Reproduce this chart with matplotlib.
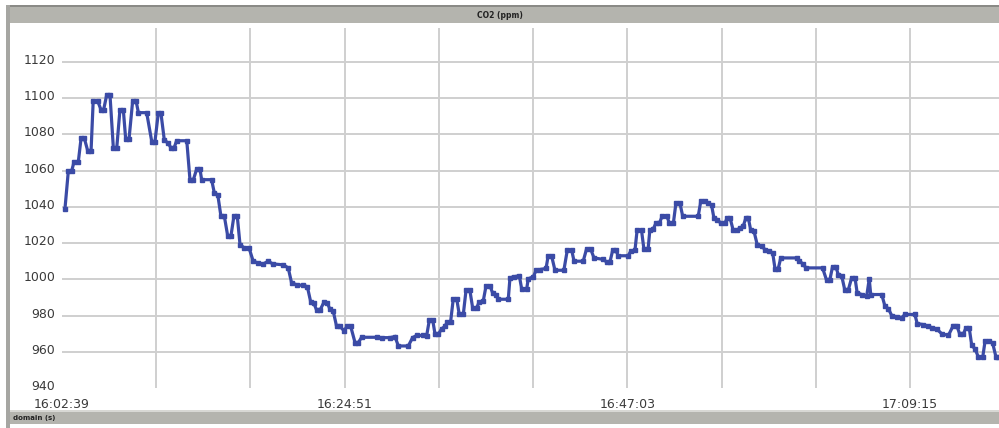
import matplotlib
matplotlib.use("Agg")
import matplotlib.pyplot as plt
import matplotlib.transforms as mtransforms
from matplotlib.patches import Rectangle

# ---- data (seconds since 16:02:39, CO2 ppm) ----
t_sec = [14, 30, 46, 57, 77, 90, 105, 121, 137, 147, 168, 184, 196, 211, 226, 242, 258,
         273, 289, 300, 316, 333, 349, 360, 399, 423, 438, 454, 466, 482, 501, 514, 528,
         540, 588, 603, 619, 635, 650, 658, 705, 718, 734, 749, 765, 781, 796, 810, 826,
         839, 859, 881, 901, 925, 949, 972, 993, 1043, 1066, 1082, 1106, 1134, 1156, 1172,
         1187, 1200, 1216, 1235, 1250, 1263, 1278, 1294, 1310, 1329, 1344, 1360, 1381,
         1396, 1412, 1483, 1506, 1546, 1569, 1585, 1632, 1652, 1671, 1702, 1718, 1731,
         1747, 1758, 1773, 1789, 1805, 1815, 1831, 1844, 1860, 1872, 1891, 1904, 1922,
         1935, 1954, 1966, 1985, 1998, 2017, 2029, 2045, 2056, 2103, 2111, 2130, 2155,
         2166, 2190, 2197, 2221, 2234, 2252, 2281, 2291, 2307, 2323, 2365, 2381, 2402,
         2413, 2456, 2472, 2491, 2507, 2551, 2567, 2582, 2595, 2610, 2621, 2668, 2680,
         2700, 2710, 2731, 2742, 2762, 2770, 2786, 2799, 2815, 2829, 2850, 2862, 2881,
         2893, 2912, 2925, 2998, 3010, 3030, 3045, 3061, 3072, 3088, 3104, 3124, 3135,
         3148, 3163, 3179, 3195, 3210, 3223, 3234, 3245, 3261, 3276, 3297, 3313, 3333,
         3349, 3360, 3375, 3387, 3462, 3474, 3490, 3506, 3584, 3603, 3618, 3631, 3647,
         3658, 3674, 3689, 3705, 3721, 3737, 3747, 3768, 3792, 3804, 3811, 3863, 3878,
         3894, 3910, 3933, 3957, 3972, 4019, 4030, 4058, 4082, 4098, 4121, 4145, 4177,
         4200, 4216, 4231, 4247, 4260, 4275, 4287, 4302, 4318, 4339, 4350, 4370, 4386,
         4401, 4412]
co2_ppm = [1039, 1060, 1060, 1065, 1065, 1078, 1078, 1071, 1071, 1098.5, 1098.5, 1093.5,
           1093.5, 1102, 1102, 1072.5, 1072.5, 1093.5, 1093.5, 1077.6, 1077.6, 1098.5,
           1098.5, 1092, 1092, 1076, 1076, 1092, 1092, 1077, 1075, 1072.5, 1072.5, 1076.5,
           1076.5, 1055, 1055, 1061, 1061, 1055, 1055, 1047.6, 1046.7, 1034.8, 1034.8,
           1023.8, 1023.8, 1034.8, 1034.8, 1019, 1017.4, 1017.5, 1010, 1009, 1008.5, 1010,
           1008.5, 1008, 1006.3, 998, 997, 996.6, 996, 987.5, 986.7, 983, 983, 987.5, 987,
           983.4, 982.5, 974, 974, 971.6, 974.2, 974.2, 965, 965, 968, 968, 967.8, 967.8,
           968.4, 963.2, 963.2, 967.8, 969, 969, 968.6, 977.5, 977.5, 969.6, 969.6, 972.7,
           974, 976.4, 976.4, 989.3, 989.3, 980.6, 980.6, 994, 994, 984.3, 984.3, 987.5,
           988, 996.2, 996.2, 992.6, 991.6, 989, 989, 1000.8, 1001.4, 1002, 994.8, 994.8,
           1000.3, 1001.4, 1004.9, 1005.4, 1006, 1013, 1013, 1005, 1005, 1016, 1016, 1010,
           1010, 1016.8, 1016.8, 1011.8, 1011, 1009.5, 1009.5, 1016, 1016, 1013, 1013,
           1015.5, 1016, 1027, 1027, 1016.8, 1016.8, 1027, 1027.8, 1031, 1031, 1035, 1035,
           1031, 1031, 1042, 1042, 1034.8, 1034.8, 1043, 1043, 1042, 1041, 1033.9, 1033,
           1031, 1031, 1034, 1034, 1027, 1027, 1028.4, 1029.3, 1034, 1034, 1027.4, 1026.5,
           1019.2, 1018.3, 1016.4, 1015.5, 1014.6, 1005.8, 1005.8, 1011.8, 1011.8, 1010,
           1008.7, 1006.3, 1006.3, 999.5, 999.5, 1006.9, 1006.9, 1002.6, 1002, 994, 994,
           1000.8, 1000.8, 992.6, 991.6, 990.7, 1000.2, 991.6, 991.6, 985.2, 983.8, 980,
           979.3, 978.8, 980.6, 980.6, 975.6, 975, 974.2, 973.3, 972.7, 970, 969, 974.5,
           974.5, 969.6, 969.6, 973.3, 973.3, 963.5, 961.7, 957.2, 957.2, 966, 966, 964.6,
           957.2, 957.2]

y_ticks = [940, 960, 980, 1000, 1020, 1040, 1060, 1080, 1100, 1120]
x_grid_step = 444
x_label_pos = [0, 1332, 2664, 3996]
x_labels = ["16:02:39", "16:24:51", "16:47:03", "17:09:15"]
title_text = "CO2 (ppm)"
domain_text = "domain (s)"

W, H = 999, 428
fig = plt.figure(figsize=(W / 100, H / 100), dpi=100)
fig.patch.set_facecolor("white")

def px_rect(x0, y0, x1, y1, color, z=0):
    fig.patches.append(Rectangle((x0 / W, 1 - y1 / H), (x1 - x0) / W, (y1 - y0) / H,
                                 transform=fig.transFigure, facecolor=color,
                                 edgecolor="none", zorder=z))

# frame decorations
px_rect(6, 6, W, 23, "#b4b4ae")          # top bar
px_rect(6, 5, W, 7, "#8a8a86")           # top bar upper edge
px_rect(6, 411, W, 424, "#b4b4ae")       # bottom bar
px_rect(6, 410, W, 411.5, "#d8d8d4")
px_rect(6, 5, 10, H, "#a6a6a2")          # left border

fig.text(500 / W, 1 - 15 / H, title_text, ha="center", va="center",
         fontsize=5.5, fontweight="bold", color="#222222")
fig.text(13 / W, 1 - 418 / H, domain_text, ha="left", va="center",
         fontsize=5, fontweight="bold", color="#222222")

ax_l, ax_r, ax_t, ax_b = 62, W, 28, 388
ax = fig.add_axes([ax_l / W, 1 - ax_b / H, (ax_r - ax_l) / W, (ax_b - ax_t) / H])
ax.set_facecolor("white")
ax.set_xlim(0, (ax_r - ax_l) * 444 / 94.22)
ax.set_ylim(940, 1120 + (62 - ax_t) / 1.815)

for s in ax.spines.values():
    s.set_visible(False)

# grid
for yv in y_ticks[1:]:
    ax.axhline(yv, color="#cfcfcf", lw=1.4, zorder=1)
xg = x_grid_step
while xg < ax.get_xlim()[1]:
    ax.axvline(xg, color="#cfcfcf", lw=1.4, zorder=1)
    xg += x_grid_step

ax.plot(t_sec, co2_ppm, color="#3b4ba6", lw=2.3, marker="s", ms=3.2,
        zorder=3, solid_joinstyle="miter")

ax.set_yticks(y_ticks)
ax.set_yticklabels([str(v) for v in y_ticks])
ax.set_xticks(x_label_pos)
ax.set_xticklabels(x_labels)
ax.tick_params(axis="both", length=0, labelsize=9, labelcolor="#3a3a3a")
ax.tick_params(axis="y", pad=5)
ax.tick_params(axis="x", pad=7)
off = mtransforms.ScaledTranslation(0, 3 / 100, fig.dpi_scale_trans)
for lab in ax.get_yticklabels():
    lab.set_transform(lab.get_transform() + off)

fig.savefig("out.png", dpi=100)
